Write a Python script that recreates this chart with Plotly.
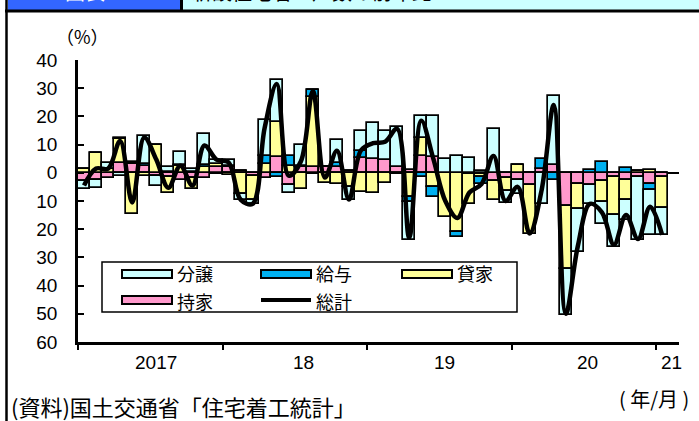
import plotly.graph_objects as go

# ---- data (monthly, 2017/01 - 2021/01), contributions in % points ----
months = [f"{y}/{m:02d}" for y in range(2017, 2021) for m in range(1, 13)] + ["2021/01"]

mochiie = [-3.0, -2.7, -1.8, 3.5, 3.0, 2.5, -1.2, -1.5, -2.5, -2.0, -2.0, 2.0,
           2.0, 0.5, -1.0, -2.0, 5.5, -4.5, 2.0, 2.0, 2.0, 2.0, 0.5, 5.3,
           5.0, 4.4, 2.0, 1.0, 6.0, 5.5, 0.0, 0.0, -0.5, -0.5, -3.0, -2.0,
           -2.7, -4.4, 1.5, 2.7, -11.9, -3.8, -4.5, -3.0, -1.6, -2.6, -1.5, -3.9,
           -1.5]
kashiya = [1.5, 7.0, 1.2, 8.5, -14.5, -1.0, 9.7, -5.7, 2.5, -3.7, 2.0, 1.2,
           -0.7, -7.5, -8.5, 3.0, 12.5, 2.5, -5.7, 25.0, -3.7, -3.9, -5.0, -6.9,
           -7.0, -3.5, -0.4, -8.6, 6.5, -5.0, -15.7, -21.0, -10.7, -1.0, -6.8, -4.5,
           2.7, -17.2, 0.0, 0.0, -22.3, -8.9, 0.0, -7.4, -13.5, -6.9, 0.5, 1.0,
           -11.0]
kyuyo = [0.0, 0.0, 0.3, 0.3, 0.5, 0.7, 0.0, 0.3, 0.3, 0.3, 0.6, 0.0,
         0.3, 0.0, 0.0, 3.0, -1.5, 3.5, 0.5, 2.4, 0.0, 1.5, 0.0, 2.4,
         0.0, 0.0, 0.0, -1.8, -1.5, -3.6, 0.0, -1.8, 0.0, -2.5, 0.0, 0.0,
         0.0, 0.0, 3.3, -2.6, 0.0, 0.0, 1.1, 3.8, 0.0, 1.8, 0.0, -2.3,
         0.0]
bunjo = [-2.8, -2.8, 1.8, -1.0, 0.5, 9.8, -3.5, 1.8, 4.5, 1.0, 11.0, 1.5,
         2.1, -2.2, -1.7, 12.6, 15.0, -2.5, 7.2, 0.0, 0.0, 8.2, -4.8, 7.1,
         12.6, 10.4, 14.4, -13.6, 7.5, 14.8, 5.0, 6.0, 5.4, 0.5, 15.7, -4.2,
         -4.7, 0.0, -11.2, 24.4, -16.3, -15.4, -6.5, -7.6, -11.2, -7.3, -22.5, -16.0,
         -9.7]
total = [-4.5, 1.5, 1.5, 11.3, -10.5, 12.5, 4.7, -5.3, 2.5, -4.5, 9.7, 4.7,
         3.7, -9.5, -11.0, 16.0, 31.5, -1.0, 4.0, 29.0, -1.7, 7.8, -9.5, 8.0,
         10.5, 11.0, 15.6, -23.0, 18.5, 5.0, -10.0, -16.0, -7.0, -4.0, 6.0, -10.0,
         -5.0, -21.5, -6.0, 24.0, -50.0, -26.0, -11.0, -14.0, -25.5, -15.0, -23.5, -12.0,
         -22.0]

year_labels = ["2017", "18", "19", "20", "21"]
year_label_pos = [5.97, 18.2, 29.9, 41.8, 48.75]
year_boundaries = [-0.5, 11.5, 23.5, 35.5, 47.5]
y_ticks = [40, 30, 20, 10, 0, -10, -20, -30, -40, -50, -60]
y_ticktext = [str(abs(v)) for v in y_ticks]

# ---- styling ----
C_BUNJO = "#CCFFFF"
C_KYUYO = "#00B0F0"
C_KASHI = "#FFFF99"
C_MOCHI = "#FF99CC"
JP = "Noto Sans CJK JP"
NUM = "Liberation Sans, Arial"

W, H = 699, 421
L, R, T, B = 78, 20, 60, 79
PW, PH = W - L - R, H - T - B


def px(x):
    return (x - L) / PW


def py(y):
    return (H - B - y) / PH


xs = list(range(len(months)))

fig = go.Figure()
for name, vals, col in [("持家", mochiie, C_MOCHI), ("貸家", kashiya, C_KASHI),
                        ("給与", kyuyo, C_KYUYO), ("分譲", bunjo, C_BUNJO)]:
    fig.add_trace(go.Bar(x=xs, y=vals, name=name, width=1.0,
                         marker=dict(color=col, line=dict(color="black", width=1.7)),
                         customdata=months, showlegend=False))

fig.add_trace(go.Scatter(x=xs, y=total, name="総計", mode="lines",
                         line=dict(color="black", width=4.5, shape="spline", smoothing=1.0),
                         showlegend=False))

shapes = []
annotations = []

# header bar
shapes += [
    dict(type="rect", xref="paper", yref="paper", x0=px(8), x1=px(180), y0=py(10), y1=py(-2),
         fillcolor="#3366FF", line=dict(width=0), layer="above"),
    dict(type="rect", xref="paper", yref="paper", x0=px(183), x1=px(702), y0=py(10), y1=py(-2),
         fillcolor="#CCFFFF", line=dict(width=0), layer="above"),
    dict(type="line", xref="paper", yref="paper", x0=px(181.5), x1=px(181.5), y0=py(10), y1=py(-2),
         line=dict(color="black", width=3), layer="above"),
    dict(type="line", xref="paper", yref="paper", x0=px(5), x1=px(699), y0=py(11), y1=py(11),
         line=dict(color="black", width=3), layer="above"),
    dict(type="line", xref="paper", yref="paper", x0=px(6.5), x1=px(6.5), y0=py(-2), y1=py(425),
         line=dict(color="black", width=2.5), layer="above"),
]
annotations += [
    dict(text="図表", xref="paper", yref="paper", x=px(85), y=py(8), xanchor="center", yanchor="bottom",
         showarrow=False, font=dict(family=JP, size=20, color="white")),
    dict(text="新設住宅着工戸数の前年比", xref="paper", yref="paper", x=px(190), y=py(8),
         xanchor="left", yanchor="bottom", showarrow=False, font=dict(family=JP, size=20, color="black")),
]

# legend box (drawn manually to match the wide swatches)
shapes.append(dict(type="rect", xref="paper", yref="paper", x0=px(102), x1=px(517), y0=py(312), y1=py(262),
                   fillcolor="white", line=dict(color="black", width=1.5), layer="above"))
legend_items = [("分譲", C_BUNJO, 122, 274), ("給与", C_KYUYO, 261, 274), ("貸家", C_KASHI, 402, 274),
                ("持家", C_MOCHI, 122, 300), ("総計", None, 261, 300)]
for name, col, x0, yc in legend_items:
    if col is None:
        shapes.append(dict(type="line", xref="paper", yref="paper", x0=px(x0), x1=px(x0 + 50),
                           y0=py(yc), y1=py(yc), line=dict(color="black", width=4), layer="above"))
    else:
        shapes.append(dict(type="rect", xref="paper", yref="paper", x0=px(x0), x1=px(x0 + 50),
                           y0=py(yc + 4), y1=py(yc - 4), fillcolor=col,
                           line=dict(color="black", width=2), layer="above"))
    ty = yc - 1 if yc < 290 else yc + 1
    annotations.append(dict(text=name, xref="paper", yref="paper", x=px(x0 + 54), y=py(ty),
                            xanchor="left", yanchor="middle", showarrow=False, borderpad=0,
                            font=dict(family=JP, size=18, color="black")))

# year labels
for lab, pos in zip(year_labels, year_label_pos):
    annotations.append(dict(text=lab, xref="x", yref="paper", x=pos, y=py(362), xanchor="center",
                            yanchor="middle", showarrow=False, font=dict(family=NUM, size=19, color="black")))

annotations += [
    dict(text="（%）", xref="paper", yref="paper", x=px(82), y=py(36), xanchor="center", yanchor="middle",
         showarrow=False, font=dict(family=JP, size=18, color="black")),
    dict(text="( 年/月 )", xref="paper", yref="paper", x=px(691), y=py(398), xanchor="right", yanchor="middle",
         showarrow=False, font=dict(family=JP, size=20, color="black")),
    dict(text="(資料)国土交通省「住宅着工統計」", xref="paper", yref="paper", x=px(10), y=py(406),
         xanchor="left", yanchor="middle", showarrow=False, borderpad=0,
         font=dict(family=JP, size=22, color="black")),
]

fig.update_layout(
    width=W, height=H, margin=dict(l=L, r=R, t=T, b=B, pad=0),
    paper_bgcolor="white", plot_bgcolor="white",
    barmode="relative", bargap=0, showlegend=False,
    shapes=shapes, annotations=annotations,
    xaxis=dict(range=[-0.5, 49.4], showgrid=False, zeroline=False, showline=True, linecolor="black",
               linewidth=2.5, tickmode="array", tickvals=year_boundaries, ticktext=[""] * 5,
               ticks="outside", ticklen=5, tickwidth=2, tickcolor="black"),
    yaxis=dict(range=[-60, 40], showgrid=False, zeroline=True, zerolinecolor="black", zerolinewidth=2,
               showline=True, linecolor="black", linewidth=2.5, tickmode="array", tickvals=y_ticks,
               ticktext=y_ticktext, ticks="inside", ticklen=6, tickwidth=2, tickcolor="black",
               ticklabelstandoff=14, tickfont=dict(family=NUM, size=19, color="black")),
)

fig.write_html("out.html")
